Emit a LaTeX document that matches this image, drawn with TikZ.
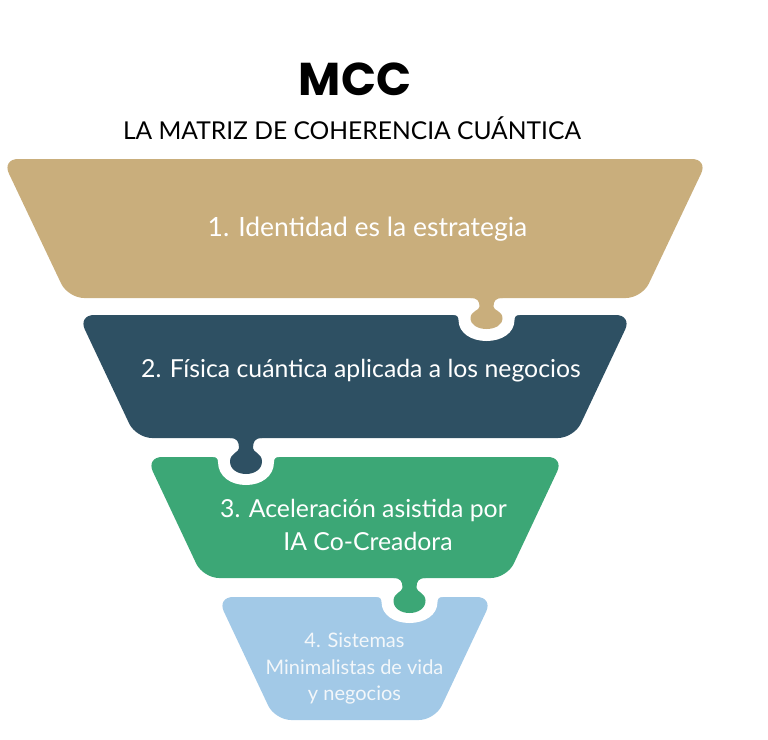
\documentclass[tikz,border=0pt]{standalone}
\usepackage{fontspec}
\setmainfont{Lato}
\newfontfamily\titlefont{Poppins}
\definecolor{tanc}{HTML}{C9AE7C}
\definecolor{darkc}{HTML}{2E5063}
\definecolor{greenc}{HTML}{3CA776}
\definecolor{bluec}{HTML}{A2C9E7}
\definecolor{bluetext}{HTML}{F3F7FA}
% trapezoid: colour, top y, bottom y, top half width, bottom half width
\newcommand{\trapez}[5]{\fill[#1, rounded corners=16pt] ({355-#4},#2) -- ({355+#4},#2) -- ({355+#5},#3) -- ({355-#5},#3) -- cycle;}
% tab: colour, cx, y0, depth
\newcommand{\tabshape}[4]{\fill[#1] ({#2-16},{#3-2}) -- ({#2-16},#3)
 .. controls ({#2-9},#3) and ({#2-7},{#3+0.1*#4}) .. ({#2-7},{#3+0.28*#4})
 .. controls ({#2-7},{#3+0.4*#4}) and ({#2-16},{#3+0.42*#4}) .. ({#2-16},{#3+0.65*#4})
 .. controls ({#2-16},{#3+0.88*#4}) and ({#2-8},{#3+#4}) .. ({#2},{#3+#4})
 .. controls ({#2+8},{#3+#4}) and ({#2+16},{#3+0.88*#4}) .. ({#2+16},{#3+0.65*#4})
 .. controls ({#2+16},{#3+0.42*#4}) and ({#2+7},{#3+0.4*#4}) .. ({#2+7},{#3+0.28*#4})
 .. controls ({#2+7},{#3+0.1*#4}) and ({#2+9},#3) .. ({#2+16},#3)
 -- ({#2+16},{#3-2}) -- cycle;}
% cutout: cx, y1, depth
\newcommand{\cutout}[3]{\fill[white] ({#1-33},{#2-3}) -- ({#1-33},#2)
 .. controls ({#1-29.5},#2) and ({#1-28},{#2+1.5}) .. ({#1-28},{#2+5})
 .. controls ({#1-28},{#2+0.7*#3}) and ({#1-15},{#2+#3}) .. ({#1},{#2+#3})
 .. controls ({#1+15},{#2+#3}) and ({#1+28},{#2+0.7*#3}) .. ({#1+28},{#2+5})
 .. controls ({#1+28},{#2+1.5}) and ({#1+29.5},#2) .. ({#1+33},#2)
 -- ({#1+33},{#2-3}) -- cycle;}
\begin{document}
\begin{tikzpicture}[x=1pt,y=-1pt,
  lbl/.style={text=white, anchor=base, inner sep=0pt, font=\fontsize{24.8}{28}\selectfont},
  lbls/.style={text=bluetext, anchor=base, inner sep=0pt, font=\fontsize{20}{24}\selectfont}]
\useasboundingbox (0,0) rectangle (768,739);
% level 4
\trapez{bluec}{597}{720}{138}{80}
\cutout{409.5}{597}{26}
% level 3
\trapez{greenc}{457}{578}{209}{152}
\cutout{246}{457}{28}
\tabshape{greenc}{409.5}{578}{35}
% level 2
\trapez{darkc}{315}{438}{277}{219}
\cutout{486.5}{315}{26}
\tabshape{darkc}{246}{438}{36}
% level 1
\trapez{tanc}{159}{298}{353}{287}
\tabshape{tanc}{486.5}{298}{31}
% texts
\node[anchor=base, inner sep=0pt, font=\titlefont\bfseries\fontsize{46}{52}\selectfont] (title) at (355,95) {MCC};
\node[anchor=base, inner sep=0pt, font=\fontsize{24.6}{30}\selectfont] (subtitle) at (352,139) {LA MATRIZ DE COHERENCIA CUÁNTICA};
\node[lbl, font=\fontsize{26.5}{30}\selectfont] (t1) at (367.5,236) {1. Identidad es la estrategia};
\node[lbl] (t2) at (361,377) {2. Física cuántica aplicada a los negocios};
\node[lbl] (t3a) at (363.5,517) {3. Aceleración asistida por};
\node[lbl] (t3b) at (368,550) {IA Co-Creadora};
\node[lbls] (t4a) at (354.5,647) {4. Sistemas};
\node[lbls] (t4b) at (354.5,674) {Minimalistas de vida};
\node[lbls] (t4c) at (354.5,700) {y negocios};
\end{tikzpicture}
\end{document}
